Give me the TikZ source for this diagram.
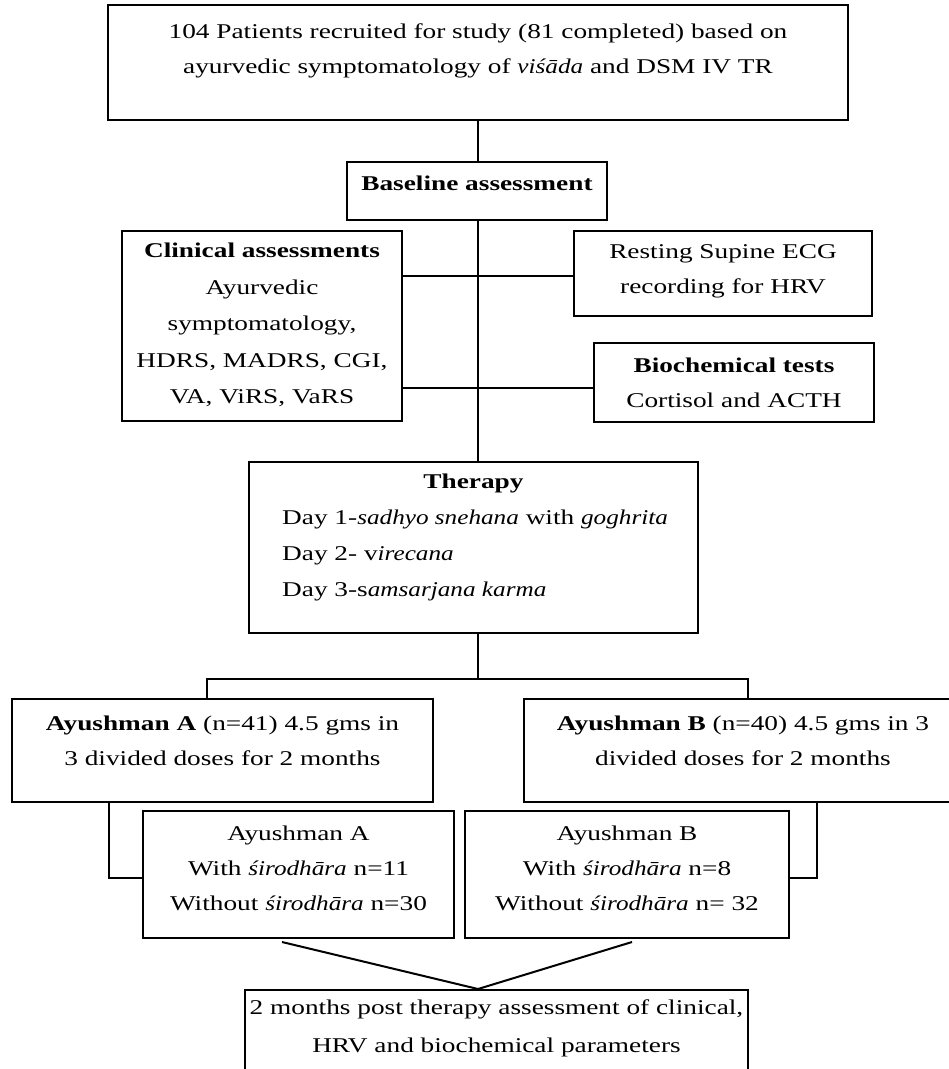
\documentclass[tikz,border=0pt]{standalone}
\usepackage{fontspec}
\setmainfont{Liberation Serif}[UprightFeatures={FakeStretch=1.3},BoldFeatures={FakeStretch=1.3},ItalicFeatures={FakeStretch=1.2},BoldItalicFeatures={FakeStretch=1.2}]
\begin{document}
\begin{tikzpicture}[x=1pt,y=-1pt,
  box/.style={draw,line width=2pt,inner sep=0pt},
  txt/.style={align=center,font=\fontsize{21}{35}\selectfont,inner sep=0pt},
  conn/.style={line width=2pt}]
\useasboundingbox (0,0) rectangle (949,1069);
\clip (0,0) rectangle (949,1069);
% boxes
\node[box,minimum width=740pt,minimum height=115pt] (top) at (478,62.5) {};
\node[box,minimum width=260pt,minimum height=58pt] (base) at (477,191) {};
\node[box,minimum width=280pt,minimum height=190pt] (clin) at (262,326) {};
\node[box,minimum width=298pt,minimum height=85pt] (rest) at (723,273.5) {};
\node[box,minimum width=280pt,minimum height=79pt] (bio) at (734,382.5) {};
\node[box,minimum width=449pt,minimum height=171pt] (ther) at (473.5,547.5) {};
\node[box,minimum width=421pt,minimum height=103pt] (A) at (222.5,750.5) {};
\node[box,minimum width=438pt,minimum height=103pt] (B) at (743,750.5) {};
\node[box,minimum width=311pt,minimum height=127pt] (subA) at (298.5,874.5) {};
\node[box,minimum width=324pt,minimum height=127pt] (subB) at (627,874.5) {};
\node[box,minimum width=503pt,minimum height=90pt] (fin) at (496.5,1035) {};
% texts
\node[txt] (tTop) at (478,50.5) {104 Patients recruited for study (81 completed) based on\\ayurvedic symptomatology of \textit{viśāda} and DSM IV TR};
\node[txt] (tBase) at (477,183) {\textbf{Baseline assessment}};
\node[txt,font=\fontsize{21}{36.5}\selectfont] (tClin) at (262,325) {\textbf{Clinical assessments}\\Ayurvedic\\symptomatology,\\HDRS, MADRS, CGI,\\VA, ViRS, VaRS};
\node[txt] (tRest) at (723,271) {Resting Supine ECG\\recording for HRV};
\node[txt] (tBio) at (734,382.5) {\textbf{Biochemical tests}\\Cortisol and ACTH};
\node[txt] (tTher) at (473.5,483) {\textbf{Therapy}};
\node[txt,align=left,anchor=west,font=\fontsize{21}{36}\selectfont] (tDays) at (282,555) {Day 1-\textit{sadhyo snehana} with \textit{goghrita}\\Day 2- v\textit{irecana}\\Day 3-s\textit{amsarjana karma}};
\node[txt] (tA) at (222.5,740.5) {\textbf{Ayushman A} (n=41) 4.5 gms in\\3 divided doses for 2 months};
\node[txt] (tB) at (743,740.5) {\textbf{Ayushman B} (n=40) 4.5 gms in 3\\divided doses for 2 months};
\node[txt] (tSubA) at (298.5,868.5) {Ayushman A\\With \textit{śirodhāra} n=11\\Without \textit{śirodhāra} n=30};
\node[txt] (tSubB) at (627,868.5) {Ayushman B\\With \textit{śirodhāra} n=8\\Without \textit{śirodhāra} n= 32};
\node[txt,font=\fontsize{21}{38}\selectfont] (tFin) at (496.5,1028) {2 months post therapy assessment of clinical,\\HRV and biochemical parameters};
% connectors
\coordinate (h1) at (478,276);
\coordinate (h2) at (478,388);
\coordinate (barL) at (207,679);
\coordinate (barR) at (748,679);
\coordinate (bkL) at (109,878);
\coordinate (bkR) at (817,878);
\coordinate (vL) at (282,942);
\coordinate (vR) at (632,942);
\draw[conn] (top.south) -- (base.north -| top.south);
\draw[conn] (base.south -| top.south) -- (ther.north -| top.south);
\draw[conn] (h1 -| clin.east) -- (h1 -| rest.west);
\draw[conn] (h2 -| clin.east) -- (h2 -| bio.west);
\draw[conn] (ther.south -| top.south) -- (barL -| top.south);
\draw[conn] (barL |- A.north) -- (barL) -- (barR) -- (barR |- B.north);
\draw[conn] (bkL |- A.south) -- (bkL) -- (bkL -| subA.west);
\draw[conn] (bkR |- B.south) -- (bkR) -- (bkR -| subB.east);
\draw[conn] (vL) -- (fin.north -| top.south) -- (vR);
\end{tikzpicture}
\end{document}
